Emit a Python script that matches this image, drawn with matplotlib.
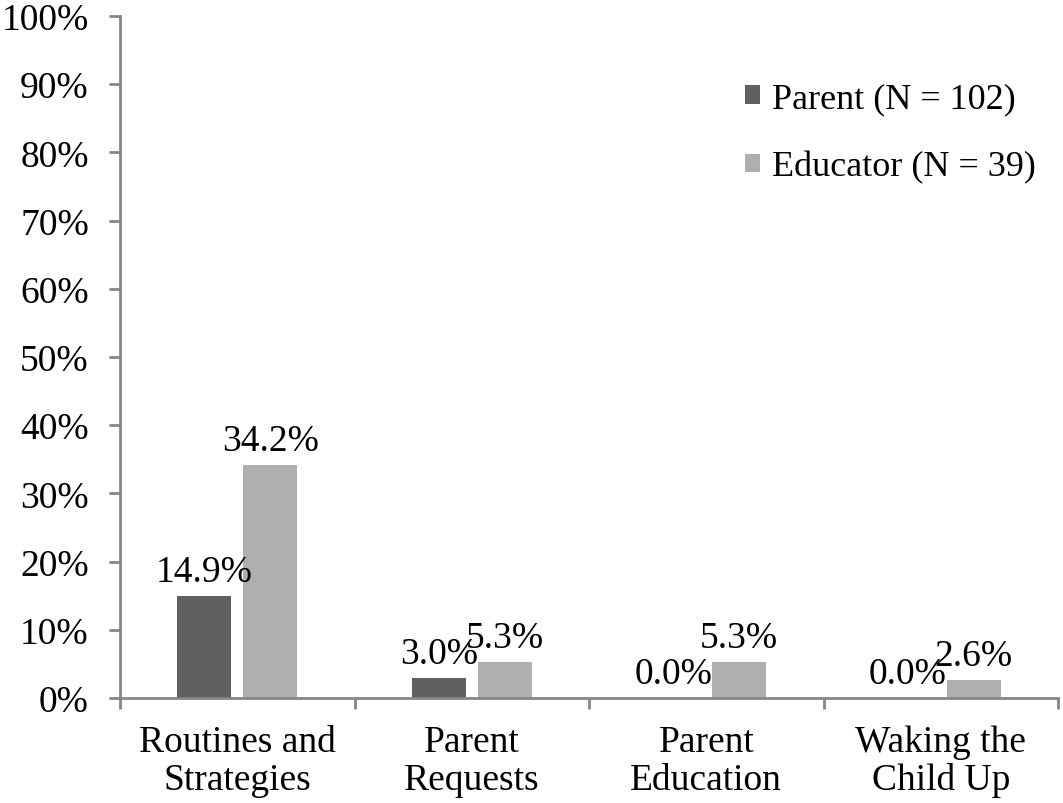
import matplotlib
matplotlib.use("Agg")
import matplotlib.pyplot as plt
import numpy as np
from matplotlib.ticker import FixedLocator, PercentFormatter

categories = ["Routines and\nStrategies", "Parent\nRequests", "Parent\nEducation", "Waking the\nChild Up"]
parent = [14.9, 3.0, 0.0, 0.0]
educator = [34.2, 5.3, 5.3, 2.6]
series_names = ["Parent (N = 102)", "Educator (N = 39)"]
yticks = list(range(0, 101, 10))

plt.rcParams['font.family'] = ['Liberation Serif', 'DejaVu Serif']
fs = 27

fig = plt.figure(figsize=(10.63, 8.04), dpi=100)
ax = fig.add_axes([0.1129, 0.1306, 0.8824, 0.8483])

x = np.arange(len(categories))
w = 0.23
off = 0.14
c_par = "#606060"
c_edu = "#AFAFAF"
b1 = ax.bar(x - off, parent, w, color=c_par, label=series_names[0])
b2 = ax.bar(x + off, educator, w, color=c_edu, label=series_names[1])

for bars, vals in ((b1, parent), (b2, educator)):
    for b, v in zip(bars, vals):
        ax.annotate(f"{v:.1f}%", (b.get_x() + b.get_width() / 2, v),
                    xytext=(0, 5), textcoords="offset points",
                    ha="center", va="bottom", fontsize=fs)

ax.set_xlim(-0.5, len(categories) - 0.5)
ax.set_ylim(0, 100)
ax.set_yticks(yticks)
ax.yaxis.set_major_formatter(PercentFormatter(decimals=0))
ax.set_xticks(x)
ax.set_xticklabels(categories, fontsize=fs, linespacing=1.12)
ax.xaxis.set_minor_locator(FixedLocator(np.arange(-0.5, len(categories), 1.0)))
ax.tick_params(axis='x', which='major', length=0, pad=19)
ax.tick_params(axis='x', which='minor', length=8, width=2, color="#868686", direction='out')
ax.tick_params(axis='y', length=8, width=2, color="#868686", labelsize=fs, pad=14.5)

for s in ("top", "right"):
    ax.spines[s].set_visible(False)
for s in ("left", "bottom"):
    ax.spines[s].set_color("#868686")
    ax.spines[s].set_linewidth(2)

ax.legend(loc="upper left", bbox_to_anchor=(0.632, 0.95), frameon=False,
          fontsize=26, handlelength=0.42, handleheight=0.42, handletextpad=0.32,
          labelspacing=0.97)

fig.savefig("out.png", dpi=100)
